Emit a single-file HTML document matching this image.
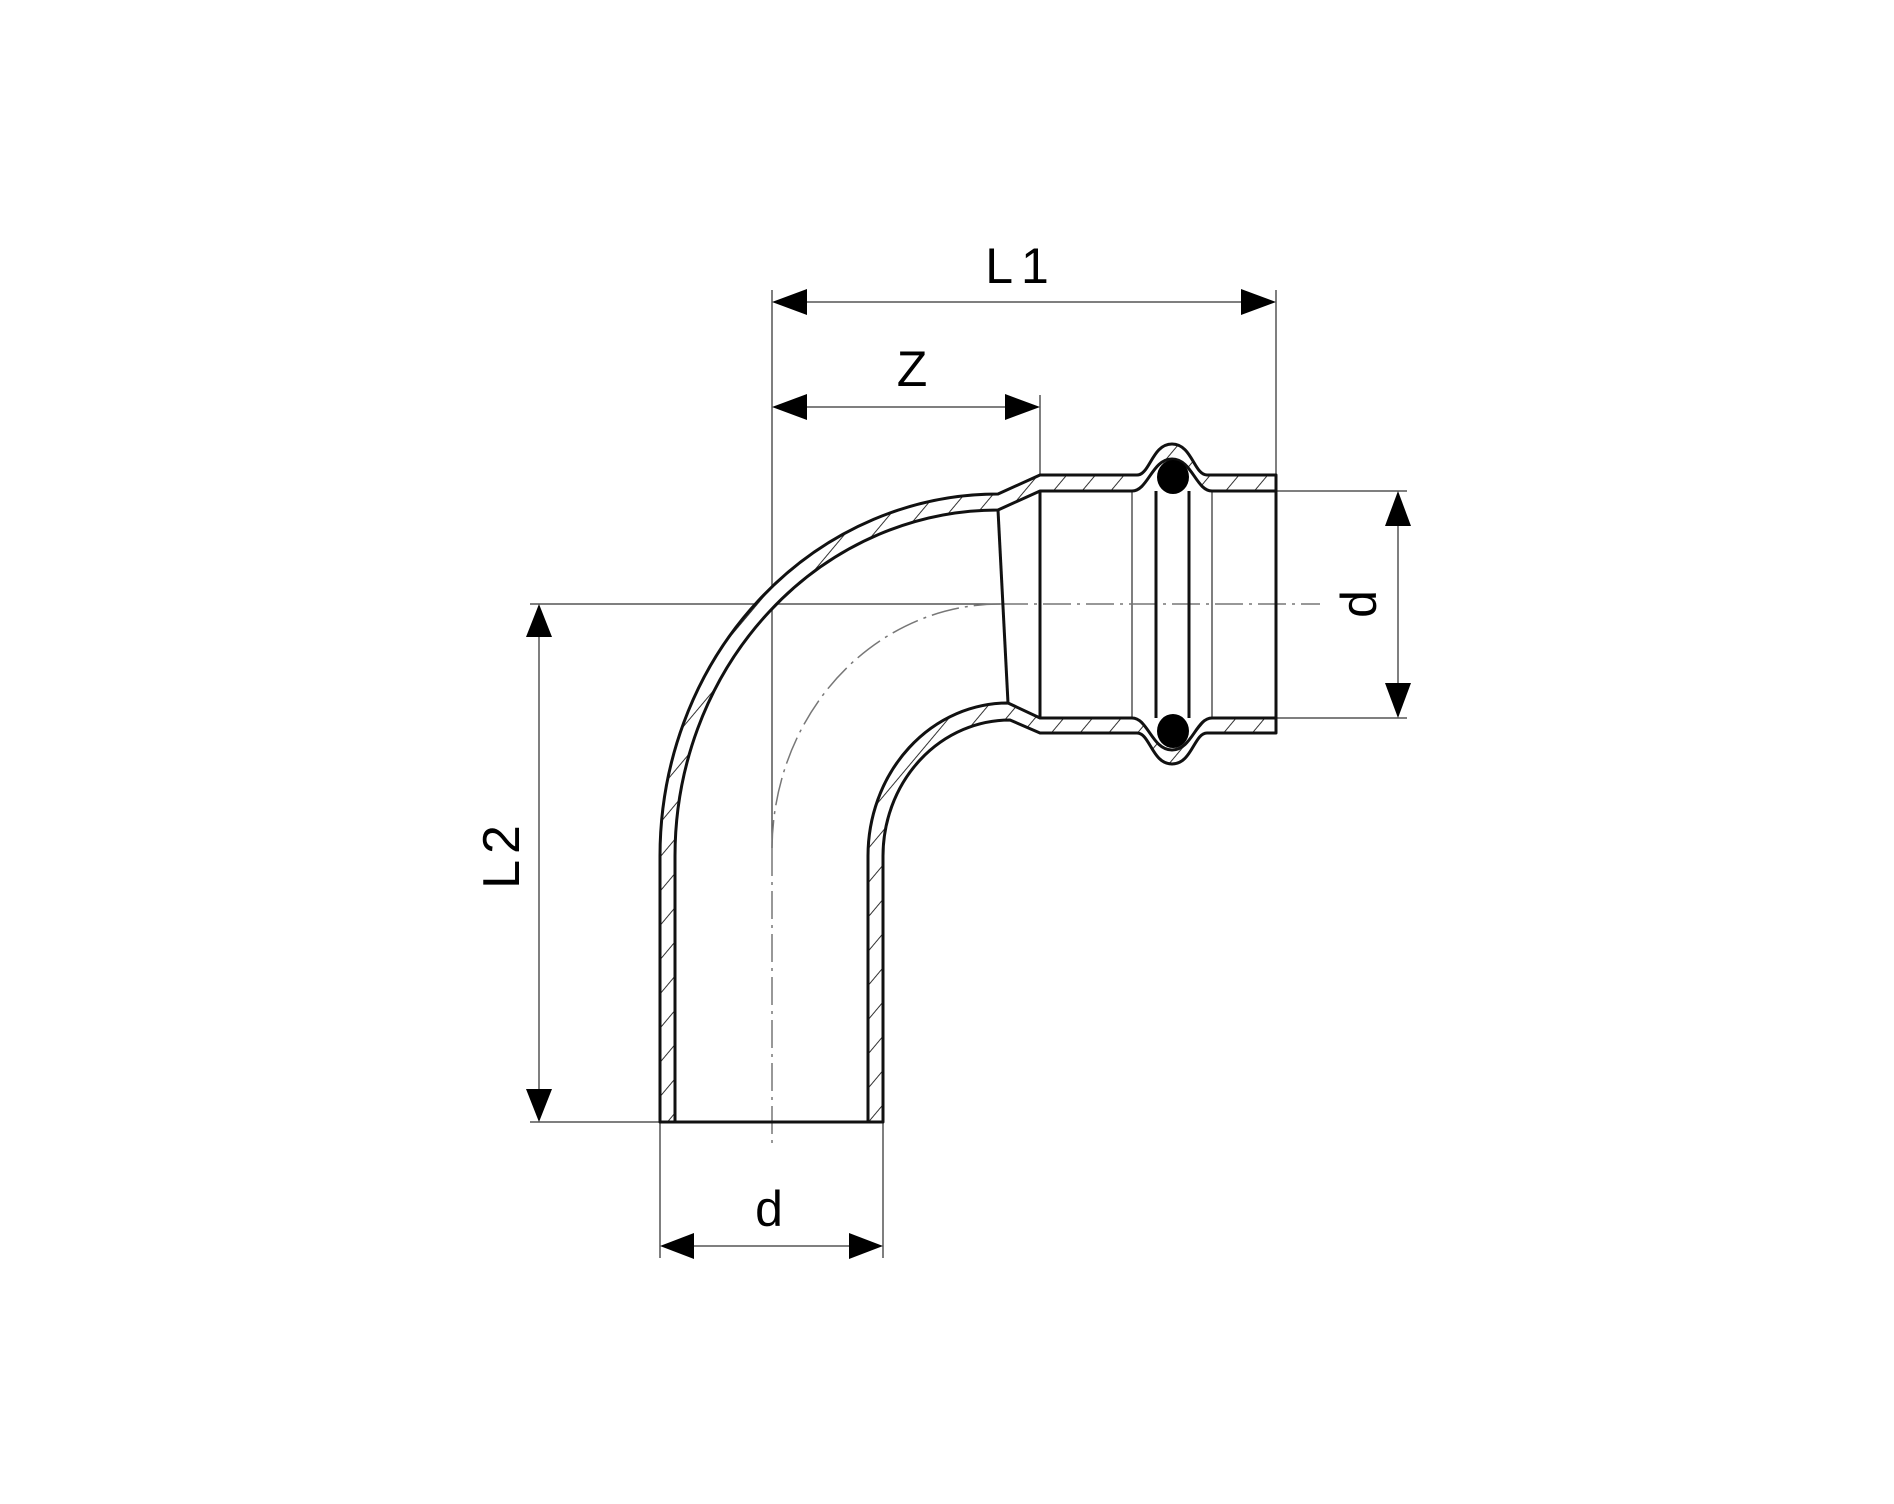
<!DOCTYPE html>
<html><head><meta charset="utf-8"><style>
html,body{margin:0;padding:0;background:#fff}
svg{display:block}
text{font-family:"Liberation Sans",sans-serif;fill:#000}
</style></head><body>
<svg width="1894" height="1504" viewBox="0 0 1894 1504" xmlns="http://www.w3.org/2000/svg">
<defs>
<pattern id="h" patternUnits="userSpaceOnUse" width="22" height="22" patternTransform="rotate(40)">
<rect width="22" height="22" fill="#fff"/>
<line x1="0" y1="0" x2="0" y2="22" stroke="#333" stroke-width="2"/>
</pattern>
</defs>
<g stroke="#555" stroke-width="1.5" fill="none">
<!-- extension lines -->
<line x1="772" y1="290" x2="772" y2="848" />
<line x1="1276" y1="290" x2="1276" y2="475"/>
<line x1="1040" y1="395" x2="1040" y2="475"/>
<line x1="1276" y1="491" x2="1407" y2="491"/>
<line x1="1276" y1="718" x2="1407" y2="718"/>
<line x1="530" y1="604" x2="1000" y2="604"/>
<line x1="530" y1="1122" x2="660" y2="1122"/>
<line x1="660" y1="1122" x2="660" y2="1258"/>
<line x1="883" y1="1122" x2="883" y2="1258"/>
<!-- dimension lines -->
<line x1="790" y1="302" x2="1260" y2="302"/>
<line x1="790" y1="407" x2="1025" y2="407"/>
<line x1="1398" y1="505" x2="1398" y2="705"/>
<line x1="539" y1="620" x2="539" y2="1106"/>
<line x1="680" y1="1246" x2="865" y2="1246"/>
<!-- socket inner lines -->
<line x1="1132" y1="491" x2="1132" y2="718"/>
<line x1="1212" y1="491" x2="1212" y2="718"/>
</g>
<!-- centerlines dash-dot -->
<g stroke="#777" stroke-width="1.5" fill="none" stroke-dasharray="28,6,3,6">
<line x1="1000" y1="604" x2="1320" y2="604"/>
<path d="M772,848 A228,246 0 0 1 1000,604"/>
<line x1="772" y1="848" x2="772" y2="1147"/>
</g>
<!-- arrowheads -->
<g fill="#000">
<polygon points="772,302 807,289 807,315"/>
<polygon points="1276,302 1241,289 1241,315"/>
<polygon points="772,407 807,394 807,420"/>
<polygon points="1040,407 1005,394 1005,420"/>
<polygon points="1398,491 1385,526 1411,526"/>
<polygon points="1398,718 1385,683 1411,683"/>
<polygon points="539,604 526,637 552,637"/>
<polygon points="539,1122 526,1089 552,1089"/>
<polygon points="660,1246 694,1233 694,1259"/>
<polygon points="883,1246 849,1233 849,1259"/>
</g>
<!-- walls -->
<g stroke="#111" stroke-width="3" fill="url(#h)" stroke-linejoin="round">
<path d="M660,1122 L660,856 A338,362 0 0 1 998,494 L1040,475 L1137,475 C1150,475 1152,444 1172,444 C1192,444 1194,475 1207,475 L1276,475 L1276,491 L1212,491 C1196,491 1192,459 1172,459 C1152,459 1148,491 1132,491 L1040,491 L998,510 A323,346 0 0 0 675,856 L675,1122 Z"/>
<path d="M868,1122 L868,856 A140,153 0 0 1 1008,703 L1040,718 L1132,718 C1148,718 1152,750 1172,750 C1192,750 1196,718 1212,718 L1276,718 L1276,733 L1207,733 C1194,733 1192,764 1172,764 C1152,764 1150,733 1137,733 L1040,733 L1010,720 A127,136 0 0 0 883,856 L883,1122 Z"/>
</g>
<g stroke="#111" stroke-width="3" fill="none">
<line x1="660" y1="1122" x2="883" y2="1122"/>
<line x1="998" y1="510" x2="1008" y2="703"/>
<line x1="1040" y1="491" x2="1040" y2="718"/>
<line x1="1276" y1="491" x2="1276" y2="718"/>
<line x1="1156" y1="491" x2="1156" y2="718"/>
<line x1="1189" y1="491" x2="1189" y2="718"/>
</g>
<ellipse cx="1173" cy="477" rx="16" ry="17" fill="#000"/>
<ellipse cx="1173" cy="731" rx="16" ry="17" fill="#000"/>
<!-- labels -->
<text x="1021" y="283" font-size="50" text-anchor="middle" letter-spacing="8">L1</text>
<text x="912" y="386" font-size="50" text-anchor="middle">Z</text>
<text x="769" y="1226" font-size="50" text-anchor="middle">d</text>
<text transform="translate(1376,604) rotate(-90)" font-size="50" text-anchor="middle">d</text>
<text transform="translate(519,854) rotate(-90)" font-size="52" text-anchor="middle" letter-spacing="6">L2</text>
</svg>
</body></html>
